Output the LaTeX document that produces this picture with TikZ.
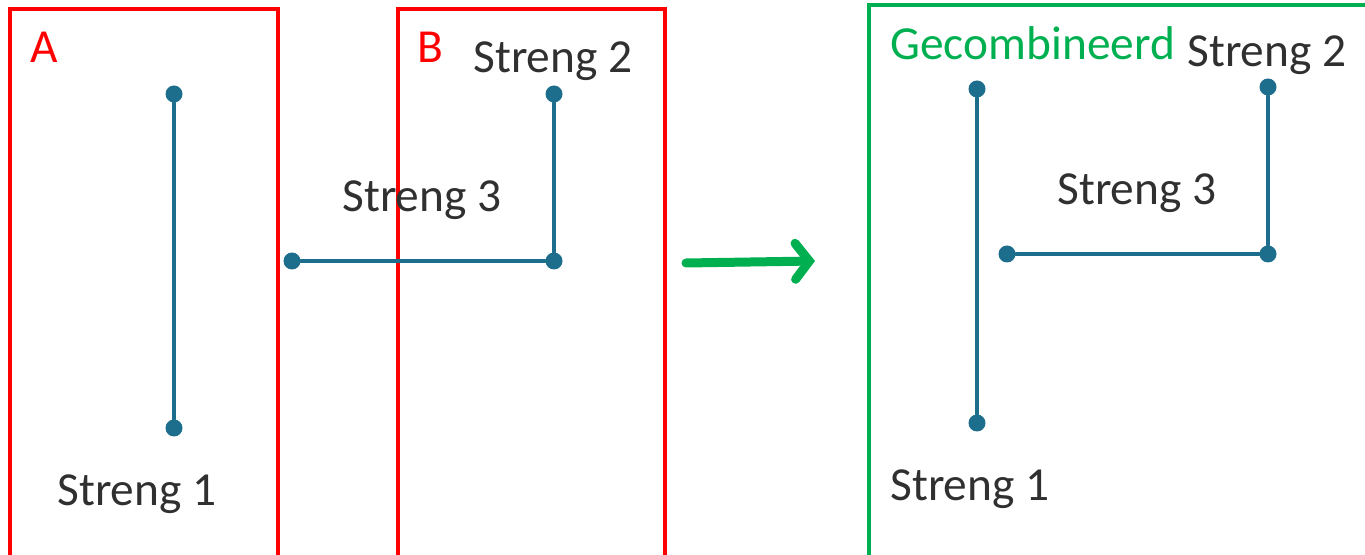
\documentclass[tikz,border=0pt]{standalone}
\usepackage{fontspec}
\setmainfont{Carlito}
\usepackage{tikz}
\usetikzlibrary{arrows.meta}

\begin{document}
\begin{tikzpicture}
		[x=0.5pt,y=-0.5pt,line cap=round,
		%Styles
		group box/.style={line width=2pt,line cap=butt},
		strand line/.style={line width=2pt,draw=strand},
		dot/.style={circle,inner sep=0pt,minimum size=8.5pt,fill=strand},
		strand label/.style={anchor=base west,inner sep=0pt,text=labeltext,font=\fontsize{23.7}{28}\selectfont},
		box label/.style={anchor=base west,inner sep=0pt,font=\fontsize{23.7}{28}\selectfont}
		]
		
		%Colors
		\definecolor{strand}{HTML}{1C6E8C}
		\definecolor{labeltext}{HTML}{303030}
		\definecolor{boxred}{HTML}{FF0000}
		\definecolor{boxgreen}{HTML}{00B050}
		
		\useasboundingbox (0,0) rectangle (1365,555);
		\clip (0,0) rectangle (1365,555);
		
		%The boxes
		\draw[group box,boxred] (10,580) -- (10,9) -- (278,9) -- (278,580);
		\draw[group box,boxred] (398,580) -- (398,9) -- (665,9) -- (665,580);
		\draw[group box,boxgreen] (869,580) -- (869,5) -- (1400,5);
		\node[box label,text=boxred] (labA) at (30,63) {A};
		\node[box label,text=boxred] (labB) at (417,63) {B};
		\node[box label,text=boxgreen] (labC) at (890,60) {Gecombineerd};
		
		%Group A
		\node[dot] (a1) at (174,94) {};
		\node[dot] (a2) at (174,428) {};
		\node[strand label] (s1a) at (57,505) {Streng 1};
		
		%Group B
		\node[dot] (b1) at (554,94) {};
		\node[dot] (b2) at (554,261) {};
		\node[dot] (b3) at (292,261) {};
		\node[strand label] (s2b) at (473,73) {Streng 2};
		\node[strand label] (s3b) at (342,212) {Streng 3};
		
		%Combined
		\node[dot] (c1) at (977,89) {};
		\node[dot] (c2) at (977,423) {};
		\node[dot] (c3) at (1268,87) {};
		\node[dot] (c4) at (1268,254) {};
		\node[dot] (c5) at (1007,254) {};
		\node[strand label] (s1c) at (890,500) {Streng 1};
		\node[strand label] (s2c) at (1187,67) {Streng 2};
		\node[strand label] (s3c) at (1057,205) {Streng 3};
		
		\path[strand line] (a1) -- (a2)
				(b1) -- (b2) -- (b3)
				(c1) -- (c2)
				(c3) -- (c4) -- (c5);
		
		%Arrow
		\coordinate (arrS) at (686,263);
		\coordinate (arrE) at (815,261);
		\draw[boxgreen,line width=4.5pt,-{Straight Barb[length=7pt,width=18pt,line cap=round]}] (arrS) -- (arrE);
	\end{tikzpicture}
\end{document}
